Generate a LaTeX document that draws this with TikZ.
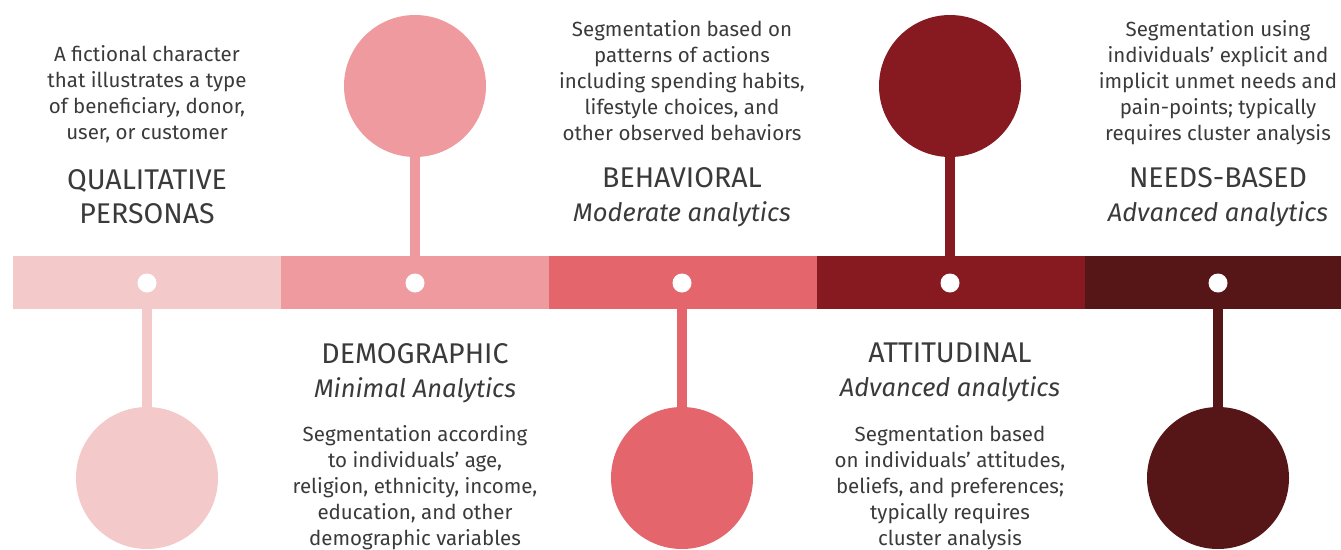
\documentclass[tikz,border=0pt]{standalone}
\usepackage{fontspec}
\setmainfont{Fira Sans}
\definecolor{segA}{HTML}{F4C9CA}
\definecolor{segB}{HTML}{EF9A9F}
\definecolor{segC}{HTML}{E4666C}
\definecolor{segD}{HTML}{861A20}
\definecolor{segE}{HTML}{561618}
\definecolor{txt}{HTML}{3A3A3A}
\newcommand{\subttl}[1]{{\fontsize{25.5}{34}\selectfont\itshape #1}}
\begin{document}
\begin{tikzpicture}[x=1pt,y=-1pt,
  seg/.style={rectangle, inner sep=0, minimum width=268, minimum height=53},
  bigdot/.style={circle, inner sep=0, minimum size=142},
  pin/.style={circle, inner sep=0, minimum size=19, fill=white},
  stem/.style={line width=10},
  body/.style={align=center, inner sep=0, text=txt, anchor=north, font=\fontsize{20.5}{26}\selectfont},
  title/.style={align=center, inner sep=0, text=txt, anchor=north, font=\fontsize{28.5}{34}\selectfont}]
\useasboundingbox (0,0) rectangle (1341,549);
% the timeline bar
\node[seg, fill=segA] (seg1) at (147,282.5){};
\node[seg, fill=segB] (seg2) at (415,282.5){};
\node[seg, fill=segC] (seg3) at (683,282.5){};
\node[seg, fill=segD] (seg4) at (951,282.5){};
\node[seg, fill=segE, minimum width=256] (seg5) at (1213,282.5){};
\node[pin] (pin1) at (147,283){};
\node[pin] (pin2) at (415,283){};
\node[pin] (pin3) at (682,283){};
\node[pin] (pin4) at (950,283){};
\node[pin] (pin5) at (1218,283){};
% big circles
\node[bigdot, fill=segA] (big1) at (147,478){};
\node[bigdot, fill=segB] (big2) at (415,86){};
\node[bigdot, fill=segC] (big3) at (682,478){};
\node[bigdot, fill=segD] (big4) at (950,86){};
\node[bigdot, fill=segE] (big5) at (1218,478){};
\draw[stem, segA](big1) -- (big1 |- seg1.south);
\draw[stem, segB](big2) -- (big2 |- seg2.north);
\draw[stem, segC](big3) -- (big3 |- seg3.south);
\draw[stem, segD](big4) -- (big4 |- seg4.north);
\draw[stem, segE](big5) -- (big5 |- seg5.south);
% texts
\node[body] (txt1) at (147,45){A fictional character\\that illustrates a type\\of beneficiary, donor,\\user, or customer};
\node[title] (ttl1) at (147,169){QUALITATIVE\\PERSONAS};
\node[title] (ttl2) at (415,343){DEMOGRAPHIC\\\subttl{Minimal Analytics}};
\node[body] (txt2) at (415,425){Segmentation according\\to individuals’ age,\\religion, ethnicity, income,\\education, and other\\demographic variables};
\node[body] (txt3) at (682,20){Segmentation based on\\patterns of actions\\including spending habits,\\lifestyle choices, and\\other observed behaviors};
\node[title] (ttl3) at (682,167){BEHAVIORAL\\\subttl{Moderate analytics}};
\node[title] (ttl4) at (950,343){ATTITUDINAL\\\subttl{Advanced analytics}};
\node[body] (txt4) at (950,425){Segmentation based\\on individuals’ attitudes,\\beliefs, and preferences;\\typically requires\\cluster analysis};
\node[body] (txt5) at (1218,20){Segmentation using\\individuals’ explicit and\\implicit unmet needs and\\pain-points; typically\\requires cluster analysis};
\node[title] (ttl5) at (1218,167){NEEDS-BASED\\\subttl{Advanced analytics}};
\end{tikzpicture}
\end{document}
